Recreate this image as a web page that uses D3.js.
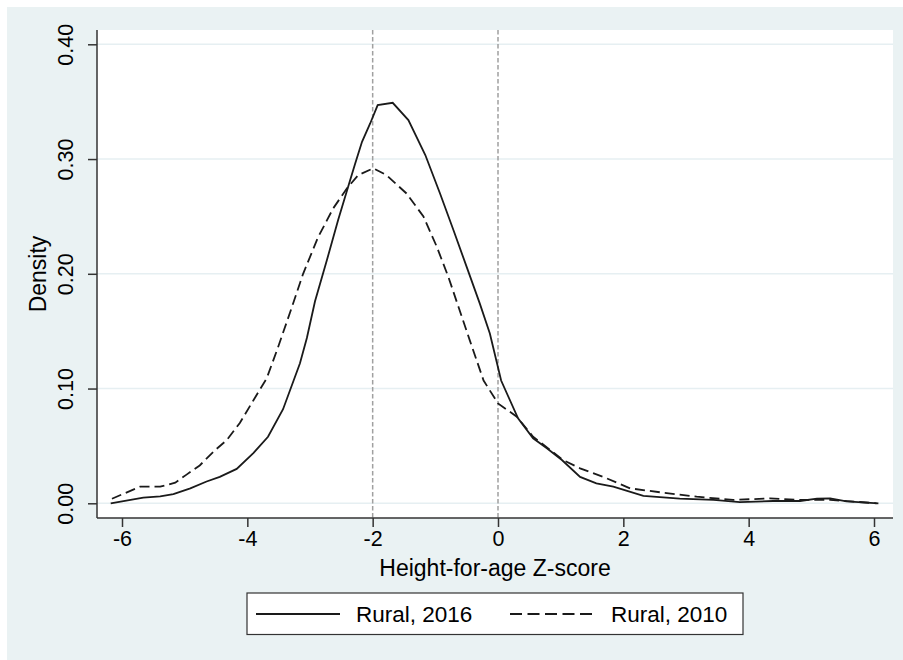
<!DOCTYPE html>
<html>
<head>
<meta charset="utf-8">
<script src="https://cdn.jsdelivr.net/npm/d3@7"></script>
<style>
  html, body { margin: 0; padding: 0; background: #ffffff; }
  svg { display: block; }
  text { font-family: "Liberation Sans", Arial, sans-serif; fill: #000; }
</style>
</head>
<body>
<svg id="chart" width="903" height="660"></svg>
<script>
// ---- Data ----
const zRural2016 = [-6.18,-5.66,-5.39,-5.18,-4.91,-4.65,-4.44,-4.17,-3.90,-3.67,-3.43,-3.16,-3.05,-2.92,-2.73,-2.55,-2.39,-2.28,-2.17,-2.04,-1.92,-1.68,-1.43,-1.16,-0.925,-0.71,-0.50,-0.29,-0.13,0.05,0.32,0.56,0.78,1.02,1.31,1.57,1.84,2.32,2.90,3.44,3.86,4.39,4.82,5.09,5.30,5.56,6.07];
const densityRural2016 = [0.000,0.005,0.006,0.008,0.013,0.019,0.023,0.030,0.044,0.058,0.082,0.122,0.144,0.176,0.212,0.247,0.276,0.296,0.315,0.331,0.347,0.349,0.334,0.3035,0.270,0.238,0.206,0.174,0.148,0.107,0.074,0.0566,0.048,0.0377,0.023,0.0174,0.0145,0.0064,0.004,0.003,0.001,0.002,0.002,0.004,0.0043,0.0017,0.000];

const zRural2010 = [-6.16,-5.71,-5.39,-5.15,-4.97,-4.76,-4.52,-4.33,-4.12,-3.90,-3.69,-3.51,-3.32,-3.11,-2.87,-2.63,-2.41,-2.23,-1.99,-1.78,-1.46,-1.19,-0.98,-0.79,-0.63,-0.45,-0.23,0.0,0.30,0.56,1.04,1.31,1.68,2.11,2.64,3.17,3.75,4.34,4.82,5.30,6.04];
const densityRural2010 = [0.004,0.0145,0.0145,0.018,0.025,0.033,0.046,0.055,0.070,0.090,0.109,0.136,0.166,0.200,0.232,0.257,0.2745,0.286,0.292,0.286,0.270,0.250,0.224,0.197,0.171,0.142,0.107,0.087,0.0755,0.058,0.0377,0.0305,0.023,0.013,0.0092,0.0058,0.0029,0.0043,0.0029,0.003,0.000];

const xTicks = [-6, -4, -2, 0, 2, 4, 6];
const yTicks = [0.00, 0.10, 0.20, 0.30, 0.40];
const yTickLabels = ["0.00", "0.10", "0.20", "0.30", "0.40"];
const refLines = [-2, 0];
const seriesNames = ["Rural, 2016", "Rural, 2010"];
const xTitle = "Height-for-age Z-score";
const yTitle = "Density";

// ---- Layout ----
const svg = d3.select("#chart");
const W = 903, H = 660;
const plot = { left: 97, right: 893, top: 30, bottom: 518 };

svg.append("rect").attr("x", 7).attr("y", 7).attr("width", W - 7).attr("height", H - 7)
  .attr("fill", "#eaf2f3");
svg.append("rect").attr("x", plot.left).attr("y", plot.top)
  .attr("width", plot.right - plot.left).attr("height", plot.bottom - plot.top)
  .attr("fill", "#ffffff");

const x = d3.scaleLinear().domain([-6, 6]).range([122, 874]);
const y = d3.scaleLinear().domain([0, 0.4]).range([503.3, 44.3]);

// gridlines
svg.append("g").selectAll("line").data(yTicks).join("line")
  .attr("x1", plot.left).attr("x2", plot.right)
  .attr("y1", d => y(d)).attr("y2", d => y(d))
  .attr("stroke", "#e6eff2").attr("stroke-width", 1.6);

// reference lines
svg.append("g").selectAll("line").data(refLines).join("line")
  .attr("x1", d => x(d)).attr("x2", d => x(d))
  .attr("y1", plot.top).attr("y2", plot.bottom)
  .attr("stroke", "#a0a0a0").attr("stroke-width", 1.5)
  .attr("stroke-dasharray", "4.5,2.5");

// curves
const line = d3.line().x(d => x(d[0])).y(d => y(d[1]));
const d2016 = zRural2016.map((z, i) => [z, densityRural2016[i]]);
const d2010 = zRural2010.map((z, i) => [z, densityRural2010[i]]);

svg.append("path").datum(d2010).attr("d", line)
  .attr("fill", "none").attr("stroke", "#1a1a1a").attr("stroke-width", 1.8)
  .attr("stroke-dasharray", "10,5");
svg.append("path").datum(d2016).attr("d", line)
  .attr("fill", "none").attr("stroke", "#1a1a1a").attr("stroke-width", 1.8);

// axes
const xAxis = svg.append("g").attr("transform", `translate(0,${plot.bottom})`)
  .call(d3.axisBottom(x).tickValues(xTicks).tickSize(9).tickPadding(4).tickFormat(d3.format("d")));
xAxis.select(".domain").attr("d", `M${plot.left},0H${plot.right}`).attr("stroke", "#333").attr("stroke-width", 1.5);
xAxis.selectAll(".tick line").attr("stroke", "#333").attr("stroke-width", 1.5);
xAxis.selectAll(".tick text").attr("font-size", 21.5).attr("font-family", "Liberation Sans, Arial, sans-serif")
  .attr("fill", "#000").text(d => d < 0 ? "-" + Math.abs(d) : String(d));

const yAxis = svg.append("g").attr("transform", `translate(${plot.left},0)`)
  .call(d3.axisLeft(y).tickValues(yTicks).tickSize(9).tickFormat((d, i) => yTickLabels[i]));
yAxis.select(".domain").attr("d", `M0,${plot.top}V${plot.bottom}`).attr("stroke", "#333").attr("stroke-width", 1.5);
yAxis.selectAll(".tick line").attr("stroke", "#333").attr("stroke-width", 1.5);
yAxis.selectAll(".tick text")
  .attr("font-size", 21.5).attr("font-family", "Liberation Sans, Arial, sans-serif").attr("fill", "#000")
  .attr("x", null).attr("dy", null)
  .attr("text-anchor", "middle")
  .attr("transform", "translate(-24,0) rotate(-90)");

// axis titles
svg.append("text").attr("x", 495).attr("y", 576).attr("text-anchor", "middle")
  .attr("font-size", 23).text(xTitle);
svg.append("text").attr("transform", "translate(46,274) rotate(-90)").attr("text-anchor", "middle")
  .attr("font-size", 23).text(yTitle);

// legend
const lg = svg.append("g");
lg.append("rect").attr("x", 247).attr("y", 593).attr("width", 496).attr("height", 41.5)
  .attr("fill", "#fff").attr("stroke", "#333").attr("stroke-width", 1.2);
const keys = [
  { x1: 256, x2: 340, tx: 356, dash: null },
  { x1: 510, x2: 597, tx: 611, dash: "12,5.5" }
];
keys.forEach((k, i) => {
  lg.append("line").attr("x1", k.x1).attr("x2", k.x2).attr("y1", 614).attr("y2", 614)
    .attr("stroke", "#1a1a1a").attr("stroke-width", 1.8)
    .attr("stroke-dasharray", k.dash);
  lg.append("text").attr("x", k.tx).attr("y", 622).attr("font-size", 22.5).text(seriesNames[i]);
});
</script>
</body>
</html>
